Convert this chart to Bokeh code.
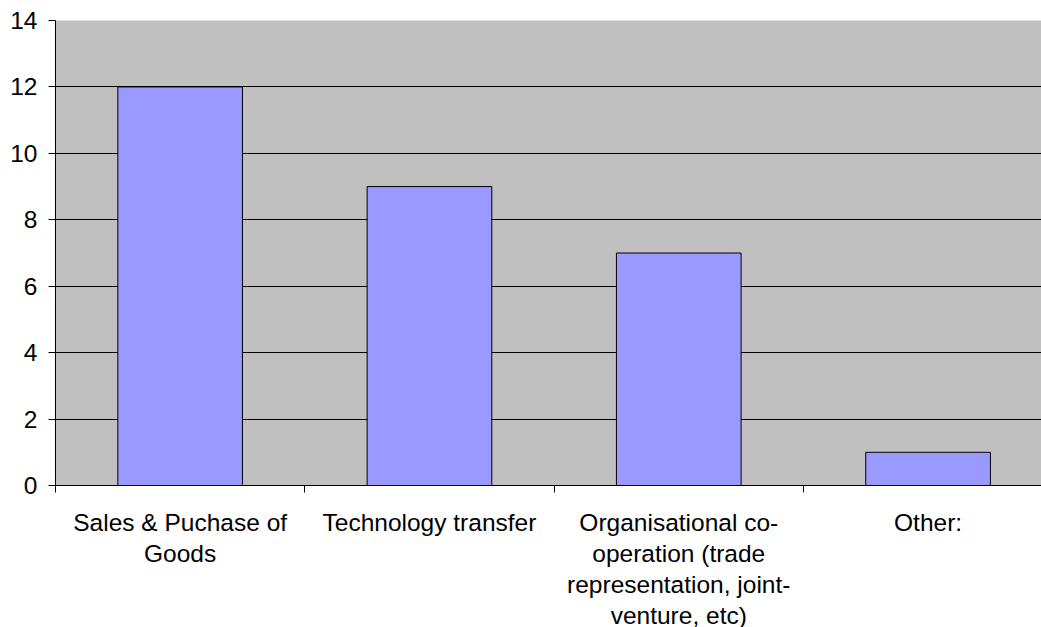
from bokeh.plotting import figure
from bokeh.models import Range1d, FixedTicker, ColumnDataSource
from bokeh.embed import file_html
from bokeh.resources import INLINE

categories = [
    "Sales & Puchase of\nGoods",
    "Technology transfer",
    "Organisational co-\noperation (trade\nrepresentation, joint-\nventure, etc)",
    "Other:",
]
values = [12, 9, 7, 1]
y_ticks = [0, 2, 4, 6, 8, 10, 12, 14]

centers = [i + 0.5 for i in range(len(categories))]
bounds = [i for i in range(len(categories))]

src = ColumnDataSource(dict(x=centers, top=values))

p = figure(frame_width=986, frame_height=465, output_backend="svg", toolbar_location=None,
           x_range=Range1d(0, 3.955), y_range=Range1d(0, 14),
           min_border_left=55, min_border_right=0, min_border_top=20, min_border_bottom=142)
p.border_fill_color = "white"
p.outline_line_color = None
p.background_fill_color = "#C0C0C0"

p.vbar(x="x", top="top", width=0.5, bottom=0, source=src,
       fill_color="#9999FF", line_color="black", line_width=1)

p.xgrid.visible = False
p.ygrid.grid_line_color = "black"
p.ygrid.grid_line_width = 1
p.ygrid.ticker = FixedTicker(ticks=y_ticks)

p.yaxis.ticker = FixedTicker(ticks=y_ticks)
p.yaxis.major_tick_out = 7
p.yaxis.major_tick_in = 0
p.yaxis.minor_tick_line_color = None
p.yaxis.axis_line_color = "black"
p.yaxis.major_tick_line_color = "black"
p.yaxis.major_label_text_font = "Liberation Sans"
p.yaxis.major_label_text_font_size = "24.5px"
p.yaxis.major_label_text_color = "black"
p.yaxis.major_label_standoff = 11

p.xaxis.ticker = FixedTicker(ticks=centers, minor_ticks=bounds)
p.xaxis.major_label_overrides = {c: lab for c, lab in zip(centers, categories)}
p.xaxis.major_tick_out = 0
p.xaxis.major_tick_in = 0
p.xaxis.minor_tick_out = 7
p.xaxis.minor_tick_in = 0
p.xaxis.minor_tick_line_color = "black"
p.xaxis.axis_line_color = "black"
p.xaxis.major_label_text_font = "Liberation Sans"
p.xaxis.major_label_text_font_size = "24.5px"
p.xaxis.major_label_text_color = "black"
p.xaxis.major_label_text_line_height = 1.15
p.xaxis.major_label_standoff = 16

open("out.html", "w").write(file_html(p, INLINE))
